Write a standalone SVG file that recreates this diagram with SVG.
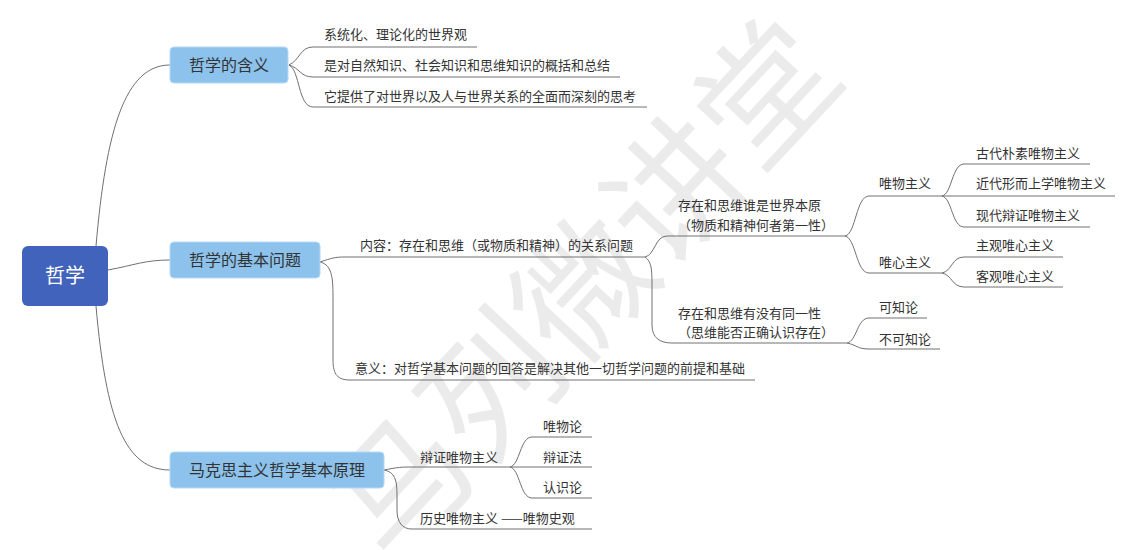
<svg xmlns="http://www.w3.org/2000/svg" width="1136" height="550" viewBox="0 0 1136 550">
<style>
.t{font-family:"Noto Sans CJK SC","Noto Sans",sans-serif;font-size:13px;fill:#333}
.l1{font-family:"Noto Sans CJK SC","Noto Sans",sans-serif;font-size:16px;fill:#333;text-anchor:middle}
.root{font-family:"Noto Sans CJK SC","Noto Sans",sans-serif;font-size:20px;fill:#fff;text-anchor:middle}
.box{fill:#8cc2eb;stroke:#b5d9f4;stroke-width:1}
.c{fill:none;stroke:#707070;stroke-width:1}
.wm{font-family:"Noto Sans CJK SC",sans-serif;font-size:134px;fill:#ebebeb;text-anchor:middle}
</style>
<rect width="1136" height="550" fill="#fff"/>
<text class="wm" x="0" y="47" transform="translate(585,290) rotate(-47)">马列微讲堂</text>
<g id="connectors">
<path class="c" d="M96,246 C106,130 125,65 170,65"/>
<path class="c" d="M108,270 C135,265 145,260 170,260"/>
<path class="c" d="M96,306 C106,420 125,470 170,470"/>
<path class="c" d="M289,65 C300,60 300,47 313,47 H477"/>
<path class="c" d="M289,65 C300,68 300,77 313,77 H620"/>
<path class="c" d="M289,65 C300,70 298,107 313,107 H647"/>
<path class="c" d="M320,262 C332,258 335,257 345,257 H645"/>
<path class="c" d="M320,262 C333,265 333,280 333,300 V360 C333,375 338,380 350,380 H755"/>
<path class="c" d="M645,257 C655,255 655,236 667,236 H845"/>
<path class="c" d="M645,257 C652,262 652,270 652,290 V325 C652,338 660,343 672,343 H847"/>
<path class="c" d="M845,236 C856,234 856,196 869,196 H942"/>
<path class="c" d="M845,236 C856,238 856,273 869,273 H942"/>
<path class="c" d="M942,196 C952,194 952,164 964,164 H1090"/>
<path class="c" d="M942,196 H1115"/>
<path class="c" d="M942,196 C952,198 952,227 964,227 H1090"/>
<path class="c" d="M942,273 C952,271 952,257 964,257 H1063"/>
<path class="c" d="M942,273 C952,275 952,287 964,287 H1063"/>
<path class="c" d="M847,343 C857,341 857,318 869,318 H927"/>
<path class="c" d="M847,343 C857,345 857,349 869,349 H940"/>
<path class="c" d="M384,470 C395,468 398,467 410,467 H510"/>
<path class="c" d="M384,470 C395,472 397,480 397,495 V510 C397,522 402,529 412,529 H592"/>
<path class="c" d="M510,467 C520,465 520,437 532,437 H592"/>
<path class="c" d="M510,467 H592"/>
<path class="c" d="M510,467 C520,469 520,498 532,498 H592"/>
</g>
<g id="root"><rect x="22" y="246" width="86" height="60" rx="6" fill="#4263bb"/><text class="root" x="65" y="283">哲学</text></g>
<g id="n1"><rect class="box" x="170" y="47" width="118" height="36" rx="4"/><text class="l1" x="229" y="71">哲学的含义</text></g>
<g id="n2"><rect class="box" x="170" y="242" width="150" height="36" rx="4"/><text class="l1" x="245" y="266">哲学的基本问题</text></g>
<g id="n3"><rect class="box" x="170" y="452" width="214" height="36" rx="4"/><text class="l1" x="277" y="476">马克思主义哲学基本原理</text></g>
<g id="n1a"><text class="t" x="324" y="39">系统化、理论化的世界观</text></g>
<g id="n1b"><text class="t" x="324" y="70">是对自然知识、社会知识和思维知识的概括和总结</text></g>
<g id="n1c"><text class="t" x="324" y="101">它提供了对世界以及人与世界关系的全面而深刻的思考</text></g>
<g id="n2a"><text class="t" x="360" y="250">内容：存在和思维（或物质和精神）的关系问题</text></g>
<g id="n2b"><text class="t" x="355" y="373">意义：对哲学基本问题的回答是解决其他一切哲学问题的前提和基础</text></g>
<g id="n2a1"><text class="t" x="678" y="210">存在和思维谁是世界本原</text><text class="t" x="678" y="230">（物质和精神何者第一性）</text></g>
<g id="n2a2"><text class="t" x="678" y="318">存在和思维有没有同一性</text><text class="t" x="678" y="337">（思维能否正确认识存在）</text></g>
<g id="wwzy"><text class="t" x="879" y="188">唯物主义</text></g>
<g id="wxzy"><text class="t" x="879" y="267">唯心主义</text></g>
<g id="w1"><text class="t" x="976" y="158">古代朴素唯物主义</text></g>
<g id="w2"><text class="t" x="976" y="188">近代形而上学唯物主义</text></g>
<g id="w3"><text class="t" x="976" y="220">现代辩证唯物主义</text></g>
<g id="x1"><text class="t" x="976" y="250">主观唯心主义</text></g>
<g id="x2"><text class="t" x="976" y="281">客观唯心主义</text></g>
<g id="k1"><text class="t" x="879" y="312">可知论</text></g>
<g id="k2"><text class="t" x="879" y="344">不可知论</text></g>
<g id="m1"><text class="t" x="420" y="462">辩证唯物主义</text></g>
<g id="m2"><text class="t" x="420" y="523">历史唯物主义 ——唯物史观</text></g>
<g id="m1a"><text class="t" x="543" y="431">唯物论</text></g>
<g id="m1b"><text class="t" x="543" y="462">辩证法</text></g>
<g id="m1c"><text class="t" x="543" y="492">认识论</text></g>
</svg>
